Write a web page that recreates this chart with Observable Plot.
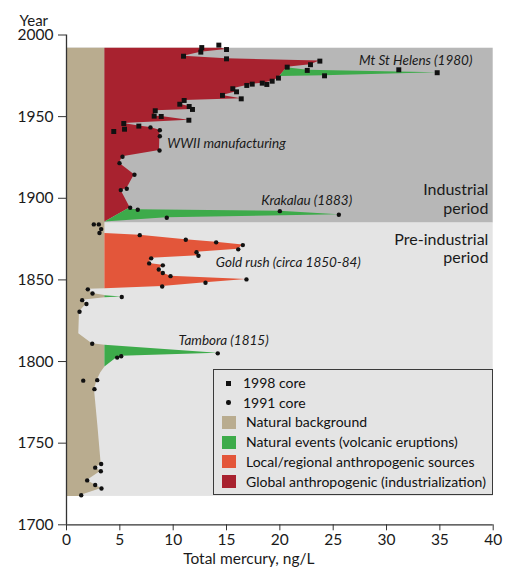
<!DOCTYPE html>
<html>
<head>
<meta charset="utf-8">
<script src="https://cdn.jsdelivr.net/npm/d3@7"></script>
<script src="https://cdn.jsdelivr.net/npm/@observablehq/plot@0.6"></script>
<style>
  html, body { margin: 0; padding: 0; background: #fff; }
  #wrap { position: relative; width: 520px; height: 584px; font-family: Lato, "Open Sans", sans-serif; }
  #legend { position: absolute; left: 213px; top: 369px; width: 280px; height: 126px;
    border: 1px solid #3a3a3a; background: #e4e4e4; box-sizing: border-box; }
  .row { position: absolute; left: 0; height: 20px; font-size: 14px; color: #111; white-space: nowrap; }
  .sw { position: absolute; left: 8px; width: 14px; height: 13px; }
  .mk { position: absolute; background: #111; }
</style>
</head>
<body>
<div id="wrap"></div>
<script>
// ---- data ----
const periods = ["Industrial", "Pre-industrial"];
const periodStart = [1884.8, 1717.4];
const periodEnd = [1991.9, 1884.8];
const periodColor = ["#b7b7b7", "#e4e4e4"];

// 1998 core (squares)
const core1998Years = [1993.8, 1992.3, 1991.1, 1989.5, 1987.0, 1985.4, 1984.0, 1981.8, 1980.3, 1978.7, 1978.3, 1976.9, 1975.0, 1973.6, 1971.7, 1970.5, 1969.7, 1969.9, 1969.1, 1967.1, 1965.2, 1963.0, 1960.9, 1959.9, 1957.6, 1956.2, 1954.4, 1953.6, 1950.3, 1950.1, 1947.8, 1945.8, 1944.2, 1942.3, 1940.9];
const core1998Values = [14.28, 12.68, 15.0, 12.59, 10.97, 15.0, 23.75, 22.87, 20.69, 31.15, 22.57, 34.75, 24.19, 19.87, 19.28, 18.35, 18.78, 17.41, 16.9, 15.59, 15.94, 14.62, 16.38, 11.03, 10.62, 11.5, 11.81, 8.32, 8.22, 8.88, 11.47, 5.37, 6.78, 5.44, 4.43];

// 1991 core (circles)
const core1991Years = [1943.4, 1941.7, 1938.0, 1929.3, 1925.4, 1921.5, 1914.4, 1905.8, 1905.0, 1894.2, 1893.0, 1892.1, 1889.9, 1888.1, 1884.0, 1884.0, 1881.1, 1878.7, 1877.4, 1874.6, 1873.0, 1871.3, 1868.7, 1867.0, 1864.8, 1863.2, 1860.1, 1858.9, 1856.4, 1854.2, 1852.3, 1850.3, 1848.3, 1846.0, 1844.2, 1841.7, 1839.5, 1837.6, 1835.2, 1830.5, 1810.9, 1805.0, 1803.2, 1802.4, 1788.3, 1788.6, 1783.1, 1737.2, 1735.0, 1732.8, 1727.2, 1724.4, 1722.2, 1718.1];
const core1991Values = [7.87, 8.75, 8.75, 8.72, 5.25, 4.97, 6.37, 5.65, 5.09, 5.97, 6.68, 20.0, 25.53, 9.4, 2.56, 3.03, 3.25, 3.09, 6.87, 11.18, 14.03, 16.53, 16.1, 12.19, 12.37, 7.94, 7.75, 9.03, 8.65, 9.03, 9.75, 16.87, 13.03, 8.97, 2.0, 2.44, 5.18, 1.47, 1.87, 1.22, 2.41, 14.18, 5.13, 4.75, 1.57, 2.88, 2.62, 3.25, 2.69, 3.22, 1.94, 2.69, 3.28, 1.38];

// Natural background (right edge of the tan band)
const bgYears = [1991.9, 1844.6, 1844.2, 1841.7, 1840.4, 1839.1, 1837.6, 1835.2, 1830.5, 1817.0, 1810.9, 1809.9, 1796.6, 1793.0, 1788.6, 1783.1, 1760.0, 1737.2, 1735.0, 1732.8, 1727.2, 1724.4, 1722.2, 1718.1, 1717.4];
const bgValues = [3.6, 3.6, 2.0, 2.44, 3.6, 3.6, 1.47, 1.87, 1.22, 1.15, 2.41, 3.6, 3.6, 3.2, 2.88, 2.62, 2.95, 3.25, 2.69, 3.22, 1.94, 2.69, 3.28, 1.38, 1.35];
const bgLevel = 3.6;

// Global anthropogenic (industrialization) outer edge
const globalYears = [1991.9, 1991.1, 1989.5, 1987.0, 1985.4, 1984.0, 1981.8, 1980.3, 1973.6, 1971.7, 1970.5, 1969.9, 1969.1, 1967.1, 1965.2, 1963.0, 1960.9, 1959.9, 1957.6, 1956.2, 1954.4, 1953.6, 1950.3, 1950.1, 1947.8, 1945.8, 1944.2, 1943.4, 1941.7, 1938.0, 1929.3, 1925.4, 1921.5, 1914.4, 1905.8, 1905.0, 1894.2, 1885.4];
const globalValues = [14.5, 15.0, 12.59, 10.97, 15.0, 23.75, 22.87, 20.69, 19.87, 19.28, 18.35, 17.41, 16.9, 15.59, 15.94, 14.62, 16.38, 11.03, 10.62, 11.5, 11.81, 8.32, 8.22, 8.88, 11.47, 5.37, 6.78, 7.87, 8.75, 8.75, 8.72, 5.25, 4.97, 6.37, 5.65, 5.09, 5.97, 3.6];

// Local/regional anthropogenic (gold rush)
const localYears = [1878.4, 1877.4, 1874.6, 1873.0, 1871.3, 1868.7, 1867.0, 1864.8, 1863.2, 1860.1, 1858.9, 1856.4, 1854.2, 1852.3, 1850.3, 1848.3, 1846.0, 1844.6];
const localValues = [3.6, 6.87, 11.18, 14.03, 16.53, 16.1, 12.19, 12.37, 7.94, 7.75, 9.03, 8.65, 9.03, 9.75, 16.87, 13.03, 8.97, 3.6];

// Natural events (volcanic eruptions): inner and outer edges
const volcanoes = ["Mt St Helens", "Krakatau", "1840 event", "Tambora"];
const volcYears = [
  [1980.0, 1978.4, 1976.9, 1975.0, 1974.6],
  [1893.3, 1893.0, 1892.1, 1889.9, 1888.1, 1885.4],
  [1840.3, 1839.5, 1839.1],
  [1809.9, 1805.0, 1803.2, 1802.4, 1796.6]
];
const volcInner = [
  [20.65, 20.46, 20.27, 20.05, 20.0],
  [5.73, 5.65, 5.40, 4.81, 4.33, 3.6],
  [3.6, 3.6, 3.6],
  [3.6, 3.6, 3.6, 3.6, 3.6]
];
const volcOuter = [
  [20.65, 22.6, 34.75, 24.19, 20.0],
  [5.73, 6.68, 20.0, 25.53, 9.4, 3.6],
  [3.6, 5.18, 3.6],
  [3.6, 14.18, 5.13, 4.75, 3.6]
];

const categories = ["Natural background", "Natural events (volcanic eruptions)", "Local/regional anthropogenic sources", "Global anthropogenic (industrialization)"];
const catColors = ["#b9ac8f", "#3dab4a", "#e3563a", "#a8222f"];

const xTicks = [0, 5, 10, 15, 20, 25, 30, 35, 40];
const yTicks = [1700, 1750, 1800, 1850, 1900, 1950, 2000];

const annotationsEnd = [
  {text: "Mt St Helens (1980)", x: 38.05, y: 1984.4}
];
const annotationsStart = [
  {text: "WWII manufacturing", x: 9.45, y: 1933.7},
  {text: "Krakalau (1883)", x: 18.25, y: 1898.6},
  {text: "Gold rush (circa 1850-84)", x: 14.0, y: 1860.8},
  {text: "Tambora (1815)", x: 10.5, y: 1812.9}
];
const periodLabels = [
  {text: "Industrial\nperiod", x: 39.55, y: 1899.9},
  {text: "Pre-industrial\nperiod", x: 39.55, y: 1869.4}
];

// ---- build tables ----
const periodData = periods.map((p, i) => ({name: p, y1: periodStart[i], y2: periodEnd[i], fill: periodColor[i]}));
const sq = core1998Years.map((y, i) => ({year: y, value: core1998Values[i]}));
const ci = core1991Years.map((y, i) => ({year: y, value: core1991Values[i]}));
const bg = bgYears.map((y, i) => ({year: y, x1: 0, x2: bgValues[i]}));
const glob = globalYears.map((y, i) => ({year: y, x1: bgLevel, x2: globalValues[i]}));
const loc = localYears.map((y, i) => ({year: y, x1: bgLevel, x2: localValues[i]}));
const volc = volcanoes.flatMap((v, k) => volcYears[k].map((y, i) => ({event: v, year: y, x1: volcInner[k][i], x2: volcOuter[k][i]})));

const annStyle = {x: "x", y: "y", text: "text", fontStyle: "italic", fontSize: 13.5, fill: "#1a1a1a"};

const chart = Plot.plot({
  width: 520,
  height: 584,
  marginLeft: 66,
  marginRight: 27.3,
  marginTop: 34.5,
  marginBottom: 59.7,
  style: {fontFamily: "Lato, 'Open Sans', sans-serif", background: "white", color: "#1a1a1a"},
  x: {domain: [0, 40]},
  y: {domain: [1700, 2000]},
  marks: [
    Plot.rect(periodData, {x1: 0, x2: 40, y1: "y1", y2: "y2", fill: "fill"}),
    Plot.areaX(bg, {y: "year", x1: "x1", x2: "x2", fill: catColors[0]}),
    Plot.areaX(glob, {y: "year", x1: "x1", x2: "x2", fill: catColors[3]}),
    Plot.areaX(loc, {y: "year", x1: "x1", x2: "x2", fill: catColors[2]}),
    Plot.areaX(volc, {y: "year", x1: "x1", x2: "x2", z: "event", fill: catColors[1]}),
    Plot.dot(sq, {x: "value", y: "year", symbol: "square", r: 2.8, fill: "#111"}),
    Plot.dot(ci, {x: "value", y: "year", symbol: "circle", r: 2.2, fill: "#111"}),
    Plot.text(annotationsEnd, {...annStyle, textAnchor: "end"}),
    Plot.text(annotationsStart, {...annStyle, textAnchor: "start"}),
    Plot.text(periodLabels, {x: "x", y: "y", text: "text", textAnchor: "end", fontSize: 16, lineHeight: 1.15, fill: "#1a1a1a"}),
    Plot.ruleX([0], {y1: 1700, y2: 2000, stroke: "#333", strokeWidth: 1.3}),
    Plot.ruleY([1700], {x1: 0, x2: 40, stroke: "#333", strokeWidth: 1.3}),
    Plot.axisY({ticks: yTicks, tickFormat: d => String(d), tickSize: 8, tickPadding: 5, fontSize: 15.5, label: null, stroke: "#333"}),
    Plot.axisX({ticks: xTicks, tickSize: 6, tickPadding: 3, fontSize: 15.5, label: null, stroke: "#333"}),
    Plot.text(["Total mercury, ng/L"], {frameAnchor: "bottom", dx: -31, dy: 39, fontSize: 15.5, fill: "#1a1a1a"}),
    Plot.text(["Year"], {frameAnchor: "top-left", dx: -47, dy: -20, textAnchor: "start", fontSize: 15, fill: "#1a1a1a"})
  ]
});

const wrap = document.getElementById("wrap");
wrap.appendChild(chart);

// ---- legend (HTML overlay) ----
const legend = document.createElement("div");
legend.id = "legend";
const rowH = 19.7;
const entries = [
  {label: "1998 core", kind: "square"},
  {label: "1991 core", kind: "circle"},
  ...categories.map((c, i) => ({label: c, kind: "swatch", color: catColors[i]}))
];
entries.forEach((e, i) => {
  const row = document.createElement("div");
  row.className = "row";
  const cy = 13 + i * rowH;
  row.style.top = (cy - 10) + "px";
  row.style.width = "100%";
  const m = document.createElement("div");
  if (e.kind === "swatch") {
    m.className = "sw";
    m.style.background = e.color;
    m.style.top = "3.5px";
  } else if (e.kind === "square") {
    m.className = "mk";
    m.style.width = "5px"; m.style.height = "5px";
    m.style.left = "12px"; m.style.top = "7.5px";
  } else {
    m.className = "mk";
    m.style.width = "4.5px"; m.style.height = "4.5px"; m.style.borderRadius = "50%";
    m.style.left = "12.3px"; m.style.top = "7.8px";
  }
  row.appendChild(m);
  const t = document.createElement("span");
  t.textContent = e.label;
  t.style.position = "absolute";
  t.style.left = (e.kind === "swatch" ? 32 : 29) + "px";
  t.style.top = "0px";
  t.style.lineHeight = "20px";
  row.appendChild(t);
  legend.appendChild(row);
});
wrap.appendChild(legend);
</script>
</body>
</html>
